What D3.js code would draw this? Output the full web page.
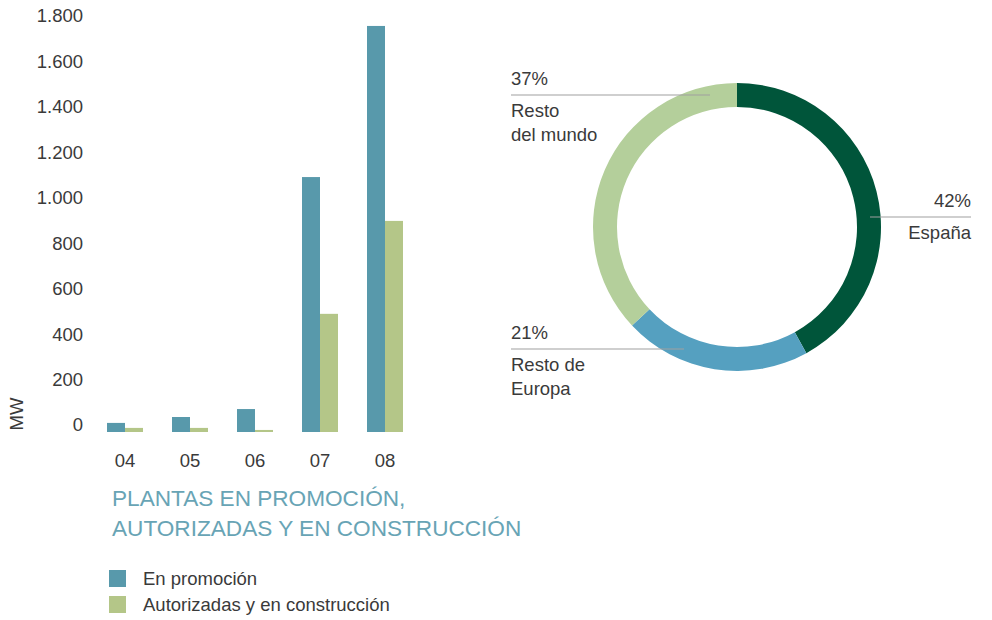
<!DOCTYPE html>
<html lang="es">
<head>
<meta charset="UTF-8">
<title>Plantas en promoción</title>
<style>
body { margin: 0; background: #fff; }
svg text { font-family: "Liberation Sans", Arial, sans-serif; fill: #3a3a3a; }
</style>
</head>
<body>
<div id="chart"></div>
<script src="https://cdnjs.cloudflare.com/ajax/libs/d3/7.8.5/d3.min.js"></script>
<script>
// bar chart data
let years = ["04", "05", "06", "07", "08"];
let enPromocion = [40, 66, 101, 1122, 1787];
let autorizadas = [18, 18, 9, 520, 929];
let yTicks = [0, 200, 400, 600, 800, 1000, 1200, 1400, 1600, 1800];
let seriesNames = ["En promoción", "Autorizadas y en construcción"];

// donut data
let regions = ["España", "Resto de Europa", "Resto del mundo"];
let shares = [42, 21, 37];

let barColors = ["#5899ab", "#b4c688"];
let donutColors = ["#00553a", "#55a0c0", "#b4cf9b"];

let fs = "18.5px";

let svg = d3.select("#chart").append("svg")
    .attr("width", 992)
    .attr("height", 620);

let fmt = d3.format(",");
let esNum = (v) => fmt(v).replace(/,/g, ".");

let y = d3.scaleLinear().domain([0, 1800]).range([432, 23]);
let x = d3.scalePoint().domain(years).range([125, 385]);
let barW = 18;

// y tick labels
svg.append("g").selectAll("text")
    .data(yTicks)
    .enter().append("text")
    .attr("x", 83)
    .attr("y", (d) => y(d) - 7)
    .attr("dy", "0.35em")
    .attr("text-anchor", "end")
    .style("font-size", fs)
    .text(esNum);

svg.append("text")
    .attr("transform", "translate(17,414) rotate(-90)")
    .attr("text-anchor", "middle")
    .attr("dy", "0.35em")
    .style("font-size", fs)
    .text("MW");

// bars
let groups = svg.append("g").selectAll("g")
    .data(years)
    .enter().append("g");

groups.append("rect")
    .attr("x", (d) => x(d) - barW)
    .attr("y", (d, i) => y(enPromocion[i]))
    .attr("width", barW)
    .attr("height", (d, i) => y(0) - y(enPromocion[i]))
    .attr("fill", barColors[0]);

groups.append("rect")
    .attr("x", (d) => x(d))
    .attr("y", (d, i) => y(autorizadas[i]))
    .attr("width", barW)
    .attr("height", (d, i) => y(0) - y(autorizadas[i]))
    .attr("fill", barColors[1]);

groups.append("text")
    .attr("x", (d) => x(d))
    .attr("y", 461)
    .attr("dy", "0.35em")
    .attr("text-anchor", "middle")
    .style("font-size", fs)
    .text((d) => d);

// title
let title = svg.append("text")
    .attr("x", 112)
    .attr("y", 506)
    .style("font-size", "22.6px")
    .style("fill", "#68a4b5");
title.append("tspan").attr("x", 112).text("PLANTAS EN PROMOCIÓN,");
title.append("tspan").attr("x", 112).attr("dy", 30).text("AUTORIZADAS Y EN CONSTRUCCIÓN");

// legend
let legend = svg.append("g").selectAll("g")
    .data(seriesNames)
    .enter().append("g")
    .attr("transform", (d, i) => "translate(109," + (570 + i * 26) + ")");
legend.append("rect")
    .attr("width", 17)
    .attr("height", 17)
    .attr("fill", (d, i) => barColors[i]);
legend.append("text")
    .attr("x", 34)
    .attr("y", 9)
    .attr("dy", "0.35em")
    .style("font-size", fs)
    .text((d) => d);

// donut
let cx = 737, cy = 227;
let pie = d3.pie().sort(null).value((d) => d);
let arc = d3.arc().innerRadius(120).outerRadius(144);
let donut = svg.append("g").attr("transform", "translate(" + cx + "," + cy + ")");
donut.selectAll("path")
    .data(pie(shares))
    .enter().append("path")
    .attr("d", arc)
    .attr("fill", (d, i) => donutColors[i]);

// donut labels, one per region in the same order as shares
let labelSpecs = [
    { y: 217, x1: 870, x2: 971, anchor: "end", tx: 971, lines: ["España"] },
    { y: 349, x1: 511, x2: 684, anchor: "start", tx: 511, lines: ["Resto de", "Europa"] },
    { y: 95, x1: 511, x2: 710, anchor: "start", tx: 511, lines: ["Resto", "del mundo"] }
];

let labels = svg.append("g").selectAll("g")
    .data(labelSpecs)
    .enter().append("g");
labels.append("line")
    .attr("x1", (d) => d.x1)
    .attr("x2", (d) => d.x2)
    .attr("y1", (d) => d.y)
    .attr("y2", (d) => d.y)
    .attr("stroke", "#a0a0a0")
    .attr("stroke-width", 1.2);
labels.append("text")
    .attr("x", (d) => d.tx)
    .attr("y", (d) => d.y - 16)
    .attr("dy", "0.35em")
    .attr("text-anchor", (d) => d.anchor)
    .style("font-size", fs)
    .text((d, i) => shares[i] + "%");
labels.each(function (d) {
    let g = d3.select(this);
    d.lines.forEach((t, j) => {
        g.append("text")
            .attr("x", d.tx)
            .attr("y", d.y + 16 + j * 24)
            .attr("dy", "0.35em")
            .attr("text-anchor", d.anchor)
            .style("font-size", fs)
            .text(t);
    });
});
</script>
</body>
</html>
